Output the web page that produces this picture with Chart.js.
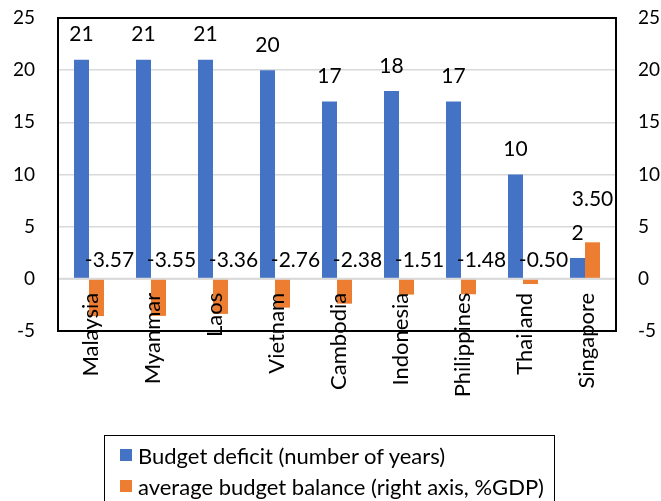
<!DOCTYPE html>
<html>
<head>
<meta charset="utf-8">
<script src="https://cdn.jsdelivr.net/npm/chart.js@4.4.1/dist/chart.umd.min.js"></script>
<style>
  html, body { margin: 0; padding: 0; background: #fff; }
  #wrap { position: relative; width: 661px; height: 501px; overflow: hidden; }
  #chart { position: absolute; left: 0; top: 0; }
  #legend {
    position: absolute; left: 104px; top: 435px; width: 451px; height: 90px;
    border: 1.5px solid #000; box-sizing: border-box;
    font-family: Lato, "Open Sans", sans-serif; font-size: 22px; color: #000;
  }
  .item { position: absolute; left: 15px; height: 12px; display: flex; align-items: center; white-space: nowrap; }
  .swatch { width: 12px; height: 12px; margin-right: 6px; flex: none; }
</style>
</head>
<body>
<div id="wrap">
  <canvas id="chart" width="676" height="501"></canvas>
  <div id="legend"></div>
</div>
<script>
const categories = ["Malaysia", "Myanmar", "Laos", "Vietnam", "Cambodia", "Indonesia", "Philippines", "Thailand", "Singapore"];
const deficitYears = [21, 21, 21, 20, 17, 18, 17, 10, 2];
const avgBalance = [-3.57, -3.55, -3.36, -2.76, -2.38, -1.51, -1.48, -0.50, 3.50];
const yTicks = [-5, 0, 5, 10, 15, 20, 25];
const seriesNames = ["Budget deficit (number of years)", "average budget balance (right axis, %GDP)"];
const colors = ["#4472C4", "#ED7D31"];

const FONT = "Lato, 'Open Sans', sans-serif";

// legend box under the plot
const legendEl = document.getElementById("legend");
seriesNames.forEach((name, i) => {
  const row = document.createElement("div");
  row.className = "item";
  row.style.top = (13 + i * 31) + "px";
  row.innerHTML = '<span class="swatch" style="background:' + colors[i] + '"></span><span>' + name + "</span>";
  legendEl.appendChild(row);
});

// value labels, category names, zero line and plot frame
const overlay = {
  id: "overlay",
  afterDatasetsDraw(chart) {
    const ctx = chart.ctx;
    const area = chart.chartArea;
    const yScale = chart.scales.y;
    const xScale = chart.scales.x;
    const zeroY = yScale.getPixelForValue(0);

    ctx.save();
    ctx.strokeStyle = "#d9d9d9";
    ctx.lineWidth = 2;
    ctx.beginPath();
    ctx.moveTo(area.left, zeroY);
    ctx.lineTo(area.right, zeroY);
    ctx.stroke();

    ctx.fillStyle = "#000";
    ctx.font = "21px " + FONT;
    ctx.textAlign = "center";
    ctx.textBaseline = "middle";

    chart.getDatasetMeta(0).data.forEach((bar, i) => {
      ctx.fillText(String(deficitYears[i]), bar.x, bar.y - 25);
    });
    chart.getDatasetMeta(1).data.forEach((bar, i) => {
      const v = avgBalance[i];
      if (v < 0) {
        ctx.fillText(v.toFixed(2), bar.x + 13, zeroY - 19);
      } else {
        ctx.fillText(v.toFixed(2), bar.x, bar.y - 43);
      }
    });

    // rotated category names hanging from the zero line
    ctx.font = "22px " + FONT;
    categories.forEach((c, i) => {
      ctx.save();
      ctx.translate(xScale.getPixelForValue(i) + 2, zeroY + 14);
      ctx.rotate(-Math.PI / 2);
      ctx.textAlign = "right";
      ctx.fillText(c, 0, 0);
      ctx.restore();
    });

    ctx.strokeStyle = "#000";
    ctx.lineWidth = 2;
    ctx.strokeRect(area.left, area.top, area.right - area.left, area.bottom - area.top);
    ctx.restore();
  }
};

function setTicks(scale) {
  scale.ticks = yTicks.map(v => ({ value: v }));
}

// fixed axis widths; drop the extra top/bottom room the tick padding adds
function fitAxis(width) {
  return (s) => {
    s.width = width;
    s.paddingTop = 0;
    s.paddingBottom = 0;
  };
}

function draw() {
  new Chart(document.getElementById("chart"), {
    type: "bar",
    data: {
      labels: categories,
      datasets: [
        { label: seriesNames[0], data: deficitYears, backgroundColor: colors[0], yAxisID: "y" },
        { label: seriesNames[1], data: avgBalance, backgroundColor: colors[1], yAxisID: "y1" },
      ],
    },
    options: {
      responsive: false,
      animation: false,
      devicePixelRatio: 1,
      datasets: { bar: { barPercentage: 1, categoryPercentage: 0.484 } },
      layout: { padding: { top: 18, bottom: 170, left: 0, right: 0 } },
      plugins: { legend: { display: false }, tooltip: { enabled: false } },
      scales: {
        x: { display: false },
        y: {
          min: -5,
          max: 25,
          afterBuildTicks: setTicks,
          afterFit: fitAxis(58),
          ticks: { color: "#000", font: { family: FONT, size: 19 }, padding: 23 },
          grid: { color: "#d9d9d9", lineWidth: 1.5, drawTicks: false },
          border: { display: false },
        },
        y1: {
          position: "right",
          min: -5,
          max: 25,
          afterBuildTicks: setTicks,
          afterFit: fitAxis(60),
          ticks: { color: "#000", font: { family: FONT, size: 19 }, padding: 22 },
          grid: { drawOnChartArea: false, drawTicks: false },
          border: { display: false },
        },
      },
    },
    plugins: [overlay],
  });
}

document.fonts.load("19px Lato").then(draw, draw);
</script>
</body>
</html>
